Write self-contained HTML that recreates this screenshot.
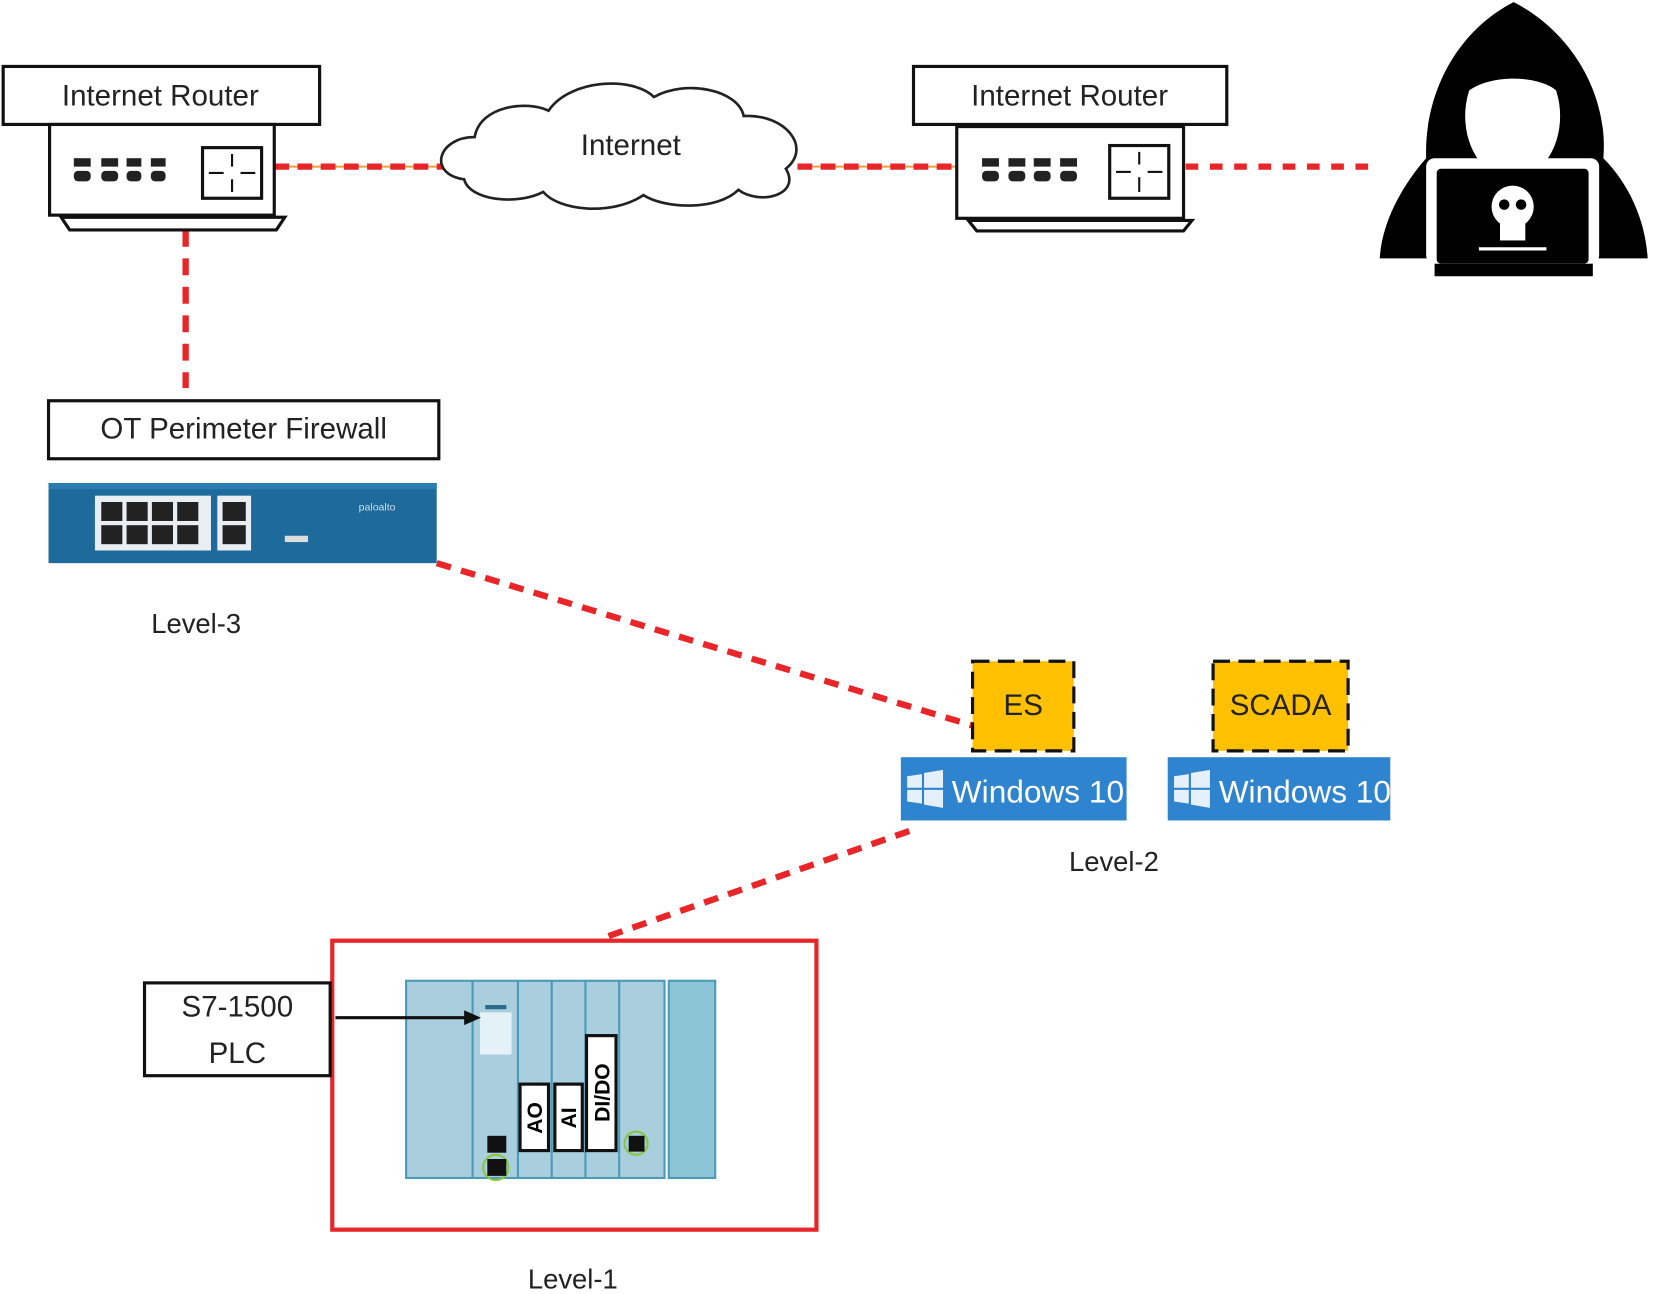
<!DOCTYPE html>
<html><head><meta charset="utf-8"><style>html,body{margin:0;padding:0;background:#fff}svg{display:block}</style></head><body>
<svg width="1654" height="1294" viewBox="0 0 1568 1227" preserveAspectRatio="none" xmlns="http://www.w3.org/2000/svg" font-family="Liberation Sans, sans-serif">
<rect width="1568" height="1227" fill="#fff"/>
<!-- connectors -->
<line x1="260" y1="158" x2="422" y2="158" stroke="#f39c3a" stroke-width="2"/>
<line x1="260" y1="158" x2="422" y2="158" stroke="#e8262a" stroke-width="6" stroke-dasharray="14,8"/>
<line x1="756" y1="158" x2="907" y2="158" stroke="#f39c3a" stroke-width="2"/>
<line x1="756" y1="158" x2="907" y2="158" stroke="#e8262a" stroke-width="6" stroke-dasharray="14,8"/>
<line x1="1124" y1="158" x2="1300" y2="158" stroke="#e8262a" stroke-width="6" stroke-dasharray="12,11"/>
<line x1="176" y1="218" x2="176" y2="368" stroke="#e8262a" stroke-width="6" stroke-dasharray="16,11"/>
<line x1="414" y1="534" x2="922" y2="688" stroke="#e8262a" stroke-width="6" stroke-dasharray="14,10"/>
<line x1="862" y1="788" x2="570" y2="890" stroke="#e8262a" stroke-width="6" stroke-dasharray="14,10"/>

<!-- Router 1 -->
<rect x="3" y="63" width="300" height="55" fill="#fff" stroke="#111" stroke-width="3"/>
<text x="152" y="100" font-size="28" text-anchor="middle" fill="#222">Internet Router</text>
<rect x="47" y="118" width="213" height="86" fill="#fff" stroke="#111" stroke-width="3"/>
<path d="M58 206 L270 206 L262 218 L66 218 Z" fill="#fff" stroke="#111" stroke-width="3"/>
<g fill="#222"><rect x="70" y="150" width="16" height="8"/><rect x="70" y="162" width="16" height="10" rx="4"/><rect x="96" y="150" width="16" height="8"/><rect x="96" y="162" width="16" height="10" rx="4"/><rect x="120" y="150" width="14" height="8"/><rect x="120" y="162" width="14" height="10" rx="4"/><rect x="143" y="150" width="14" height="8"/><rect x="143" y="162" width="14" height="10" rx="4"/></g>
<rect x="192" y="140" width="56" height="48" fill="#fff" stroke="#111" stroke-width="3"/>
<g stroke="#111" stroke-width="2"><line x1="220" y1="146" x2="220" y2="158"/><line x1="220" y1="170" x2="220" y2="182"/><line x1="198" y1="164" x2="212" y2="164"/><line x1="228" y1="164" x2="242" y2="164"/></g>

<!-- Cloud -->
<path d="M440 170 C405 165 415 130 450 130 C455 100 500 95 520 105 C540 75 600 72 620 92 C650 75 700 85 705 110 C745 108 770 140 745 160 C760 185 720 195 700 180 C680 200 630 198 610 185 C580 205 530 200 515 182 C490 195 445 190 440 170 Z" fill="#fff" stroke="#222" stroke-width="2.5"/>
<text x="598" y="147" font-size="28" text-anchor="middle" fill="#222">Internet</text>

<!-- Router 2 -->
<rect x="866" y="63" width="297" height="55" fill="#fff" stroke="#111" stroke-width="3"/>
<text x="1014" y="100" font-size="28" text-anchor="middle" fill="#222">Internet Router</text>
<rect x="907" y="120" width="215" height="87" fill="#fff" stroke="#111" stroke-width="3"/>
<path d="M918 209 L1130 209 L1122 219 L926 219 Z" fill="#fff" stroke="#111" stroke-width="3"/>
<g fill="#222"><rect x="931" y="150" width="16" height="8"/><rect x="931" y="162" width="16" height="10" rx="4"/><rect x="956" y="150" width="16" height="8"/><rect x="956" y="162" width="16" height="10" rx="4"/><rect x="980" y="150" width="16" height="8"/><rect x="980" y="162" width="16" height="10" rx="4"/><rect x="1005" y="150" width="16" height="8"/><rect x="1005" y="162" width="16" height="10" rx="4"/></g>
<rect x="1052" y="138" width="56" height="50" fill="#fff" stroke="#111" stroke-width="3"/>
<g stroke="#111" stroke-width="2"><line x1="1080" y1="144" x2="1080" y2="156"/><line x1="1080" y1="168" x2="1080" y2="182"/><line x1="1058" y1="163" x2="1072" y2="163"/><line x1="1088" y1="163" x2="1102" y2="163"/></g>

<!-- Hacker -->
<g fill="#000">
<path d="M1435 2 C1380 30 1350 90 1352 150 C1330 175 1310 210 1308 245 L1562 245 C1560 210 1545 175 1520 150 C1525 90 1490 30 1435 2 Z"/>
<path d="M1360 262 L1510 262 L1510 250 L1360 250 Z"/>
</g>
<ellipse cx="1434" cy="110" rx="45" ry="60" fill="#fff"/>
<path d="M1390 88 C1410 70 1460 70 1478 88 L1478 70 C1460 40 1410 40 1390 70 Z" fill="#000"/>
<rect x="1352" y="150" width="164" height="100" rx="8" fill="#fff"/>
<rect x="1362" y="160" width="144" height="90" rx="4" fill="#000"/>
<circle cx="1434" cy="196" r="20" fill="#fff"/>
<rect x="1422" y="208" width="24" height="20" fill="#fff"/>
<circle cx="1426" cy="194" r="5" fill="#000"/><circle cx="1442" cy="194" r="5" fill="#000"/>
<line x1="1402" y1="236" x2="1466" y2="236" stroke="#fff" stroke-width="3"/>

<!-- Firewall -->
<rect x="46" y="380" width="370" height="55" fill="#fff" stroke="#111" stroke-width="3"/>
<text x="231" y="416" font-size="28" text-anchor="middle" fill="#222">OT Perimeter Firewall</text>
<rect x="46" y="458" width="368" height="76" fill="#1e6a9a"/>
<rect x="46" y="458" width="368" height="6" fill="#2a7db2"/>
<rect x="90" y="470" width="110" height="52" fill="#e8eef2"/>
<g fill="#222"><rect x="96" y="476" width="20" height="18"/><rect x="120" y="476" width="20" height="18"/><rect x="144" y="476" width="20" height="18"/><rect x="168" y="476" width="20" height="18"/><rect x="96" y="498" width="20" height="18"/><rect x="120" y="498" width="20" height="18"/><rect x="144" y="498" width="20" height="18"/><rect x="168" y="498" width="20" height="18"/></g>
<rect x="206" y="470" width="32" height="52" fill="#e8eef2"/>
<rect x="211" y="476" width="22" height="18" fill="#222"/><rect x="211" y="498" width="22" height="18" fill="#222"/>
<rect x="270" y="508" width="22" height="6" fill="#ddd"/>
<text x="340" y="484" font-size="10" fill="#cde">paloalto</text>

<text x="186" y="600" font-size="26" text-anchor="middle" fill="#222">Level-3</text>

<!-- ES / SCADA -->
<rect x="922" y="627" width="96" height="85" fill="#ffc000" stroke="#111" stroke-width="3" stroke-dasharray="16,8"/>
<text x="970" y="678" font-size="28" text-anchor="middle" fill="#222">ES</text>
<rect x="1150" y="627" width="128" height="85" fill="#ffc000" stroke="#111" stroke-width="3" stroke-dasharray="16,8"/>
<text x="1214" y="678" font-size="28" text-anchor="middle" fill="#222">SCADA</text>
<rect x="854" y="718" width="214" height="60" fill="#2f84cf"/>
<rect x="1107" y="718" width="211" height="60" fill="#2f84cf"/>
<g fill="#e6f0fa"><path d="M860 736 L874 734 L874 747 L860 747 Z M876 733 L894 730 L894 747 L876 747 Z M860 749 L874 749 L874 762 L860 760 Z M876 749 L894 749 L894 766 L876 763 Z"/>
<path d="M1113 736 L1127 734 L1127 747 L1113 747 Z M1129 733 L1147 730 L1147 747 L1129 747 Z M1113 749 L1127 749 L1127 762 L1113 760 Z M1129 749 L1147 749 L1147 766 L1129 763 Z"/></g>
<text x="984" y="761" font-size="30" text-anchor="middle" fill="#fff">Windows 10</text>
<text x="1237" y="761" font-size="30" text-anchor="middle" fill="#fff">Windows 10</text>
<text x="1056" y="826" font-size="26" text-anchor="middle" fill="#222">Level-2</text>

<!-- PLC -->
<rect x="315" y="892" width="459" height="274" fill="none" stroke="#e8262a" stroke-width="4"/>
<rect x="137" y="932" width="176" height="88" fill="#fff" stroke="#111" stroke-width="3"/>
<text x="225" y="964" font-size="28" text-anchor="middle" fill="#222">S7-1500</text>
<text x="225" y="1008" font-size="28" text-anchor="middle" fill="#222">PLC</text>
<rect x="385" y="930" width="245" height="187" fill="#a9cfde" stroke="#4a9ab8" stroke-width="2"/>
<rect x="634" y="930" width="44" height="187" fill="#8cc6d6" stroke="#4a9ab8" stroke-width="2"/>
<g stroke="#4a9ab8" stroke-width="2"><line x1="448" y1="930" x2="448" y2="1117"/><line x1="491" y1="930" x2="491" y2="1117"/><line x1="523" y1="930" x2="523" y2="1117"/><line x1="555" y1="930" x2="555" y2="1117"/><line x1="587" y1="930" x2="587" y2="1117"/></g>
<rect x="455" y="960" width="30" height="40" fill="#e4f2f8"/>
<rect x="460" y="953" width="20" height="4" fill="#2a6a8a"/>
<line x1="318" y1="965" x2="445" y2="965" stroke="#111" stroke-width="3"/>
<path d="M456 965 L440 958 L440 972 Z" fill="#111"/>
<rect x="493" y="1028" width="27" height="63" fill="#fff" stroke="#111" stroke-width="3"/>
<rect x="526" y="1028" width="26" height="63" fill="#fff" stroke="#111" stroke-width="3"/>
<rect x="556" y="982" width="28" height="109" fill="#fff" stroke="#111" stroke-width="3"/>
<text transform="translate(514,1060) rotate(-90)" font-size="20" font-weight="bold" text-anchor="middle">AO</text>
<text transform="translate(546,1060) rotate(-90)" font-size="20" font-weight="bold" text-anchor="middle">AI</text>
<text transform="translate(578,1036) rotate(-90)" font-size="20" font-weight="bold" text-anchor="middle">DI/DO</text>
<rect x="462" y="1077" width="18" height="16" fill="#111"/>
<circle cx="470" cy="1107" r="12" fill="none" stroke="#8cc63f" stroke-width="2"/>
<rect x="462" y="1099" width="18" height="16" fill="#111"/>
<circle cx="603" cy="1084" r="11" fill="none" stroke="#8cc63f" stroke-width="2"/>
<rect x="596" y="1077" width="15" height="15" fill="#111"/>
<text x="543" y="1222" font-size="26" text-anchor="middle" fill="#222">Level-1</text>
</svg>
</body></html>
